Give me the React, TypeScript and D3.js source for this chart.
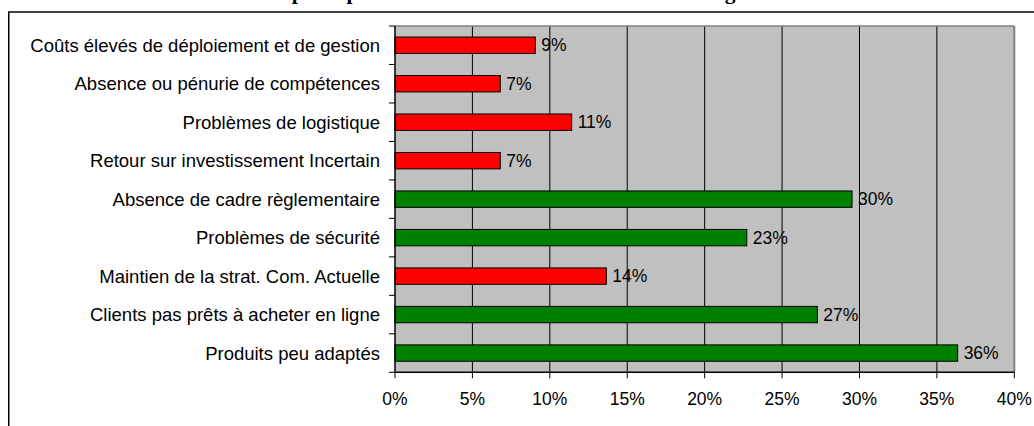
import React from 'react';
import * as d3 from 'd3';

// values (percent), top to bottom
const categories = [
  "Coûts élevés de déploiement et de gestion",
  "Absence ou pénurie de compétences",
  "Problèmes de logistique",
  "Retour sur investissement Incertain",
  "Absence de cadre règlementaire",
  "Problèmes de sécurité",
  "Maintien de la strat. Com. Actuelle",
  "Clients pas prêts à acheter en ligne",
  "Produits peu adaptés",
];
const values = [9.06, 6.8, 11.41, 6.8, 29.52, 22.72, 13.65, 27.28, 36.34];
const barColors = ["#FF0000", "#FF0000", "#FF0000", "#FF0000", "#008000", "#008000", "#FF0000", "#008000", "#008000"];
const xTicks = [0, 5, 10, 15, 20, 25, 30, 35, 40];
const title = "Les principaux freins au lancement de la vente en ligne";

export default function App() {
  const width = 1034;
  const height = 426;
  const plot = { left: 395, right: 1014.3, top: 26, bottom: 372.3 };
  const font = "'Liberation Sans', Arial, sans-serif";

  const x = d3.scaleLinear().domain([0, 40]).range([plot.left, plot.right]);
  const y = d3
    .scaleBand<string>()
    .domain(categories)
    .range([plot.top, plot.bottom])
    .paddingInner(0.574)
    .paddingOuter(0.287);

  const step = y.step();
  const boundaries = d3.range(categories.length + 1).map(i => plot.top + i * step);
  const center = (c: string) => (y(c) as number) + y.bandwidth() / 2;

  return (
    <svg
      width={width}
      height={height}
      style={{ position: 'absolute', left: 0, top: 0, background: '#fff' }}
    >
      {/* title, mostly outside the picture */}
      <text x={254} y={-1} fontFamily="'Liberation Serif', 'Times New Roman', serif" fontWeight="bold" fontSize={21.5} fill="#000">
        {title}
      </text>

      {/* outer chart frame */}
      <rect x={8.75} y={12} width={1100} height={600} fill="none" stroke="#000" strokeWidth={1.5} />

      {/* plot area */}
      <rect x={plot.left} y={plot.top} width={plot.right - plot.left} height={plot.bottom - plot.top} fill="#C0C0C0" />

      {xTicks.slice(1, -1).map(t => (
        <line key={t} x1={x(t)} x2={x(t)} y1={plot.top} y2={plot.bottom} stroke="#000" strokeWidth={1} />
      ))}

      {categories.map((c, i) => (
        <rect
          key={c}
          x={x(0)}
          y={y(c)}
          width={x(values[i]) - x(0)}
          height={y.bandwidth()}
          fill={barColors[i]}
          stroke="#000"
          strokeWidth={1}
        />
      ))}

      {/* plot border (top and right) */}
      <line x1={plot.left} x2={plot.right} y1={plot.top} y2={plot.top} stroke="#808080" strokeWidth={1.5} />
      <line x1={plot.right} x2={plot.right} y1={plot.top} y2={plot.bottom} stroke="#808080" strokeWidth={2} />

      {/* y axis */}
      <line x1={plot.left} x2={plot.left} y1={plot.top} y2={plot.bottom} stroke="#000" strokeWidth={1.5} />
      {boundaries.map((b, i) => (
        <line key={i} x1={plot.left - 6} x2={plot.left} y1={b} y2={b} stroke="#000" strokeWidth={1} />
      ))}

      {/* x axis */}
      <line x1={plot.left} x2={plot.right} y1={plot.bottom} y2={plot.bottom} stroke="#000" strokeWidth={1.5} />
      {xTicks.map(t => (
        <g key={t}>
          <line x1={x(t)} x2={x(t)} y1={plot.bottom} y2={plot.bottom + 6} stroke="#000" strokeWidth={1} />
          <text x={x(t)} y={405} textAnchor="middle" fontFamily={font} fontSize={17.5} fill="#000">
            {t}%
          </text>
        </g>
      ))}

      {/* category labels */}
      {categories.map(c => (
        <text key={c} x={380} y={center(c)} dy="0.35em" textAnchor="end" fontFamily={font} fontSize={18.5} fill="#000">
          {c}
        </text>
      ))}

      {/* data labels */}
      {categories.map((c, i) => (
        <text key={c} x={x(values[i]) + 6} y={center(c)} dy="0.35em" fontFamily={font} fontSize={17.5} fill="#000">
          {Math.round(values[i])}%
        </text>
      ))}
    </svg>
  );
}
